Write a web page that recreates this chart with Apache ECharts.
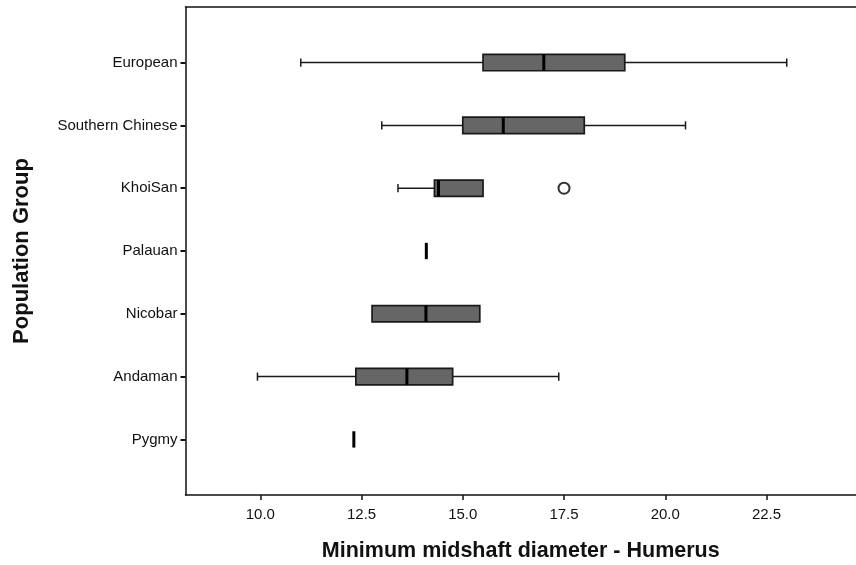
<!DOCTYPE html>
<html>
<head>
<meta charset="utf-8">
<script src="https://cdn.jsdelivr.net/npm/echarts@6/dist/echarts.min.js"></script>
<style>
  html, body { margin: 0; padding: 0; background: #fff; }
  #chart { width: 856px; height: 565px; }
</style>
</head>
<body>
<div id="chart"></div>
<script>
// Population groups, bottom to top
const categories = ['Pygmy', 'Andaman', 'Nicobar', 'Palauan', 'KhoiSan', 'Southern Chinese', 'European'];
// Five-number summaries per group (same order as categories)
const mins    = [12.31,  9.93, 12.76, 14.1, 13.4, 13.0, 11.0];
const q1s     = [12.31, 12.36, 12.76, 14.1, 14.3, 15.0, 15.5];
const medians = [12.31, 13.62, 14.09, 14.1, 14.4, 16.0, 17.0];
const q3s     = [12.31, 14.75, 15.42, 14.1, 15.5, 18.0, 19.0];
const maxs    = [12.31, 17.37, 15.42, 14.1, 15.5, 20.5, 23.0];
// Outliers: [category, value]
const outliers = [['KhoiSan', 17.5]];
const xTicks = [10.0, 12.5, 15.0, 17.5, 20.0, 22.5];

const boxData = categories.map((c, i) => [i, mins[i], q1s[i], medians[i], q3s[i], maxs[i]]);
const outlierData = outliers.map(o => [o[1], categories.indexOf(o[0])]);
const catIdx = categories.map((c, i) => i);

const ink = '#111';
const xMin = 8.153, xMax = 24.71;

function renderBox(params, api) {
  const y = api.value(0);
  const lo = api.value(1), q1 = api.value(2), med = api.value(3), q3 = api.value(4), hi = api.value(5);
  const band = api.size([0, 1])[1];
  const boxH = band * 0.26;
  const capH = band * 0.13;
  const cy = api.coord([med, y])[1];
  const px = v => api.coord([v, y])[0];
  const children = [];
  const lineStyle = { stroke: '#1a1a1a', lineWidth: 1.5 };
  if (lo < q1) {
    children.push({ type: 'line', shape: { x1: px(lo), y1: cy, x2: px(q1), y2: cy }, style: lineStyle });
    children.push({ type: 'line', shape: { x1: px(lo), y1: cy - capH / 2, x2: px(lo), y2: cy + capH / 2 }, style: lineStyle });
  }
  if (hi > q3) {
    children.push({ type: 'line', shape: { x1: px(q3), y1: cy, x2: px(hi), y2: cy }, style: lineStyle });
    children.push({ type: 'line', shape: { x1: px(hi), y1: cy - capH / 2, x2: px(hi), y2: cy + capH / 2 }, style: lineStyle });
  }
  if (q3 > q1) {
    children.push({
      type: 'rect',
      shape: { x: px(q1), y: cy - boxH / 2, width: px(q3) - px(q1), height: boxH },
      style: { fill: '#666666', stroke: '#1a1a1a', lineWidth: 1.7 }
    });
  }
  children.push({
    type: 'line',
    shape: { x1: px(med), y1: cy - boxH / 2, x2: px(med), y2: cy + boxH / 2 },
    style: { stroke: '#000', lineWidth: 3 }
  });
  return { type: 'group', children };
}

const chart = echarts.init(document.getElementById('chart'), null, { renderer: 'canvas' });
chart.setOption({
  animation: false,
  backgroundColor: '#fff',
  grid: { left: 185.5, right: 0, top: 7, bottom: 70, containLabel: false, outerBoundsMode: 'none' },
  xAxis: [{
    type: 'value',
    min: xMin, max: xMax,
    name: 'Minimum midshaft diameter - Humerus',
    nameLocation: 'middle',
    nameGap: 45,
    nameTextStyle: { fontFamily: 'Liberation Sans', fontWeight: 'bold', fontSize: 21.5, color: ink },
    axisLine: { show: true, onZero: false, lineStyle: { color: ink, width: 1.5 } },
    axisTick: { show: true, length: 5, lineStyle: { color: ink, width: 1.5 }, customValues: xTicks },
    axisLabel: {
      customValues: xTicks, margin: 12,
      fontFamily: 'Liberation Sans', fontSize: 15, color: ink,
      formatter: v => Number(v).toFixed(1)
    },
    splitLine: { show: false }
  }, {
    type: 'value', position: 'top',
    min: xMin, max: xMax,
    axisLine: { show: true, onZero: false, lineStyle: { color: ink, width: 1.5 } },
    axisTick: { show: false }, axisLabel: { show: false }, splitLine: { show: false }
  }],
  yAxis: {
    type: 'value',
    min: -0.885, max: 6.885,
    name: 'Population Group',
    nameLocation: 'middle',
    nameGap: 153,
    nameRotate: 90,
    nameTextStyle: { fontFamily: 'Liberation Sans', fontWeight: 'bold', fontSize: 22, color: ink },
    axisLine: { show: true, onZero: false, lineStyle: { color: ink, width: 1.5 } },
    axisTick: { show: true, length: 5, lineStyle: { color: ink, width: 2 }, customValues: catIdx },
    axisLabel: {
      customValues: catIdx, margin: 8,
      fontFamily: 'Liberation Sans', fontSize: 15, color: ink,
      formatter: v => categories[Math.round(v)]
    },
    splitLine: { show: false }
  },
  series: [{
    type: 'custom',
    renderItem: renderBox,
    encode: { x: [1, 2, 3, 4, 5], y: 0 },
    data: boxData,
    clip: false
  }, {
    type: 'scatter',
    symbol: 'emptyCircle',
    symbolSize: 11,
    itemStyle: { color: '#000', borderColor: '#000', borderWidth: 1.3 },
    data: outlierData
  }]
});
</script>
</body>
</html>
